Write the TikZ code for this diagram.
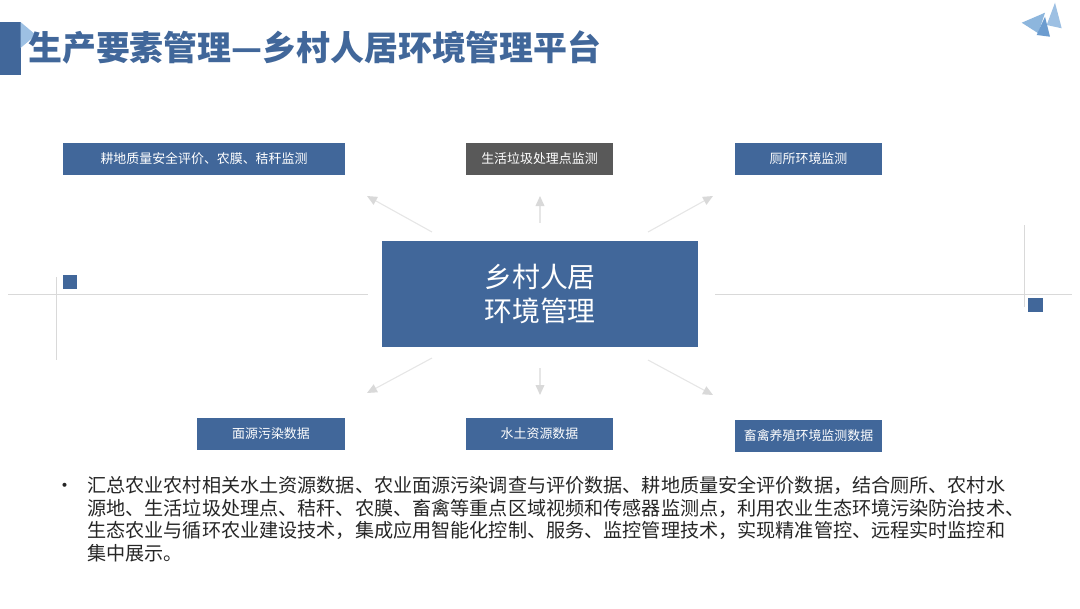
\documentclass[tikz,border=0pt]{standalone}
\usepackage{fontspec}
\setmainfont{Noto Sans CJK SC}
\usetikzlibrary{positioning,arrows.meta}
\definecolor{mainblue}{HTML}{41679A}
\definecolor{boxgray}{HTML}{595959}
\definecolor{linegray}{HTML}{D9D9D9}
\definecolor{arrowgray}{HTML}{E6E6E6}
\definecolor{textdark}{HTML}{262626}
\definecolor{paleblue}{HTML}{9DC0E3}
\definecolor{skyblue}{HTML}{8DB6DD}
\definecolor{midblue}{HTML}{6C9CCF}

\begin{document}
\begin{tikzpicture}
    [x=0.025cm, y=-0.025cm,
     box/.style={fill=mainblue, text=white, inner sep=0pt, minimum width=3.675cm, minimum height=0.8cm, font=\fontsize{9.2}{11}\selectfont},
     hub/.style={fill=mainblue, text=white, align=center, inner sep=0pt, minimum width=7.9cm, minimum height=2.65cm, font=\fontsize{19.8}{24.1}\selectfont},
     spoke/.style={draw=arrowgray, line width=0.8pt, -{Triangle[length=0.25cm, width=0.22cm, color=linegray]}},
     deco/.style={draw=linegray, line width=0.6pt}]
  \useasboundingbox (0,0) rectangle (1080,608);

  % header
  \fill[mainblue] (0,22) rectangle (20.5,75);
  \fill[paleblue] (20.5,22) -- (36,35) -- (20.5,48) -- cycle;
  \node[anchor=base west, inner sep=0pt, text=mainblue, font=\fontsize{24.1}{28}\selectfont\bfseries] (title) at (28,60) {生产要素管理—乡村人居环境管理平台};

  \fill[skyblue] (1021.7,22.7) -- (1045,12.7) -- (1038.3,33.3) -- cycle;
  \fill[paleblue] (1055,2.7) -- (1046.7,25) -- (1061.7,28.3) -- cycle;
  \fill[midblue] (1045,16.7) -- (1036.7,35) -- (1050,36.7) -- cycle;

  % side lines
  \draw[deco] (8,294) -- (368,294);
  \draw[deco] (715,294) -- (1072,294);
  \draw[deco] (56,277) -- (56,360);
  \draw[deco] (1024,225) -- (1024,307);
  \fill[mainblue] (63,275) rectangle (77,289);
  \fill[mainblue] (1028,298) rectangle (1043,312);

  \node[hub] (hub) at (540,294) {乡村人居\\环境管理};

  \node[box, minimum width=7.05cm] (soil) at (204,159) {耕地质量安全评价、农膜、秸秆监测};
  \node[box, fill=boxgray] (waste) at (539.5,159) {生活垃圾处理点监测};
  \node[box] (toilet) at (808.5,159) {厕所环境监测};
  \node[box] (source) at (271,433.5) {面源污染数据};
  \node[box] (water) at (539.5,433.5) {水土资源数据};
  \node[box] (stock) at (808.5,435.5) {畜禽养殖环境监测数据};

  \coordinate (ul0) at (432,232); \coordinate (ul1) at (367,196);
  \coordinate (uc0) at (540,223); \coordinate (uc1) at (540,196);
  \coordinate (ur0) at (648,232); \coordinate (ur1) at (713,196);
  \coordinate (dl0) at (432,358); \coordinate (dl1) at (367,393);
  \coordinate (dc0) at (540,368); \coordinate (dc1) at (540,395);
  \coordinate (dr0) at (648,360); \coordinate (dr1) at (713,395);

  \foreach \a in {ul, uc, ur, dl, dc, dr}
    \draw[spoke] (\a0) -- (\a1);

  % description
  \node[anchor=base, inner sep=0pt, text=textdark, font=\fontsize{13.5}{16}\selectfont] (dot) at (65,492) {•};
  \node[anchor=base west, align=left, inner sep=0pt, text=textdark, font=\fontsize{13.6}{16}\selectfont] (desc) at (87,560)
    {汇总农业农村相关水土资源数据、农业面源污染调查与评价数据、耕地质量安全评价数据，结合厕所、农村水\\
     源地、生活垃圾处理点、秸秆、农膜、畜禽等重点区域视频和传感器监测点，利用农业生态环境污染防治技术、\\
     生态农业与循环农业建设技术，集成应用智能化控制、服务、监控管理技术，实现精准管控、远程实时监控和\\
     集中展示。};
\end{tikzpicture}
\end{document}
